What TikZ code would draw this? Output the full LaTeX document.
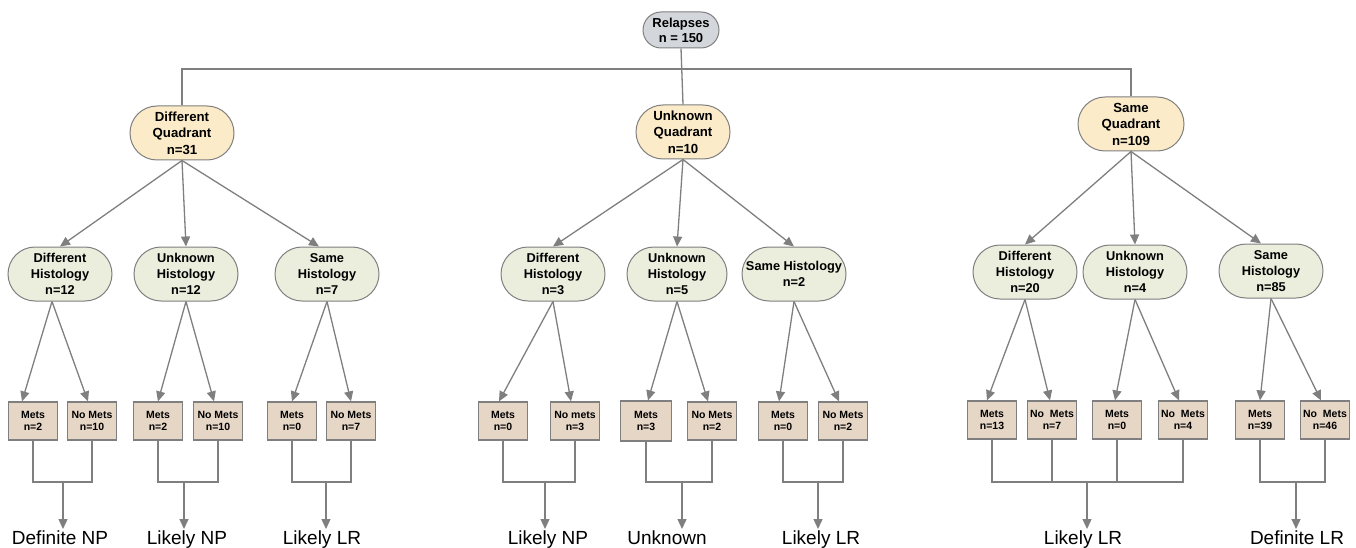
\documentclass[tikz,border=0pt]{standalone}
\usepackage{fontspec}
\setmainfont{Liberation Sans}
\usetikzlibrary{shapes.misc,arrows.meta}
\definecolor{lineg}{HTML}{7F7F7F}
\definecolor{relfill}{HTML}{D3D7DC}
\definecolor{quadfill}{HTML}{FBEBC9}
\definecolor{histfill}{HTML}{EBEEDD}
\definecolor{boxfill}{HTML}{E6D6C6}
\begin{document}
\begin{tikzpicture}[x=1pt,y=-1pt,
  pill/.style={rounded rectangle, draw=lineg, line width=1pt, align=center, inner sep=0pt},
  relnode/.style={pill, fill=relfill, minimum width=76pt, minimum height=36pt, font=\fontsize{13}{15}\selectfont\bfseries},
  quad/.style={pill, fill=quadfill, minimum height=54pt, font=\fontsize{13.2}{16.5}\selectfont\bfseries},
  hist/.style={pill, fill=histfill, minimum width=104pt, minimum height=54pt, font=\fontsize{12.8}{16}\selectfont\bfseries},
  metbox/.style={draw=lineg, line width=1.2pt, fill=boxfill, minimum width=49pt, minimum height=38pt, inner sep=0pt, align=center, font=\fontsize{10.5}{12}\selectfont\bfseries},
  conn/.style={draw=lineg, line width=1.3pt},
  arr/.style={conn, -{Triangle[length=10pt,width=9pt]}},
  outcome/.style={anchor=north, inner sep=2pt, font=\fontsize{19}{22}\selectfont}
]
\useasboundingbox (0,0) rectangle (1356,548);

% root
\node[relnode] (rel) at (681,30) {Relapses\\n = 150};

% quadrants
\node[quad, minimum width=104pt] (dq) at (182,133) {Different\\Quadrant\\n=31};
\node[quad, minimum width=94pt] (uq) at (683,132) {Unknown\\Quadrant\\n=10};
\node[quad, minimum width=106pt] (sq) at (1131,124) {Same\\Quadrant\\n=109};

\coordinate (top) at (681,69);
\draw[conn] (rel.south) -- (uq.north);
\draw[conn] (dq.north) -- (dq.north |- top) -- (sq.north |- top) -- (sq.north);

% histology
\node[hist] (h1) at (60,274) {Different\\Histology\\n=12};
\node[hist] (h2) at (186,274) {Unknown\\Histology\\n=12};
\node[hist] (h3) at (327,274) {Same\\Histology\\n=7};
\node[hist] (h4) at (553,274) {Different\\Histology\\n=3};
\node[hist, minimum width=100pt] (h5) at (677,274) {Unknown\\Histology\\n=5};
\node[hist] (h6) at (794,274) {Same Histology\\n=2};
\node[hist] (h7) at (1025,272) {Different\\Histology\\n=20};
\node[hist] (h8) at (1135,272) {Unknown\\Histology\\n=4};
\node[hist] (h9) at (1271,271) {Same\\Histology\\n=85};

\draw[arr] (dq.south) -- (h1.north);
\draw[arr] (dq.south) -- (h2.north);
\draw[arr] (dq.south) -- ([xshift=-8pt]h3.north);
\draw[arr] (uq.south) -- (h4.north);
\draw[arr] (uq.south) -- (h5.north);
\draw[arr] (uq.south) -- (h6.north);
\draw[arr] (sq.south) -- (h7.north);
\draw[arr] (sq.south) -- (h8.north);
\draw[arr] (sq.south) -- ([xshift=-10pt]h9.north);

% met boxes
\node[metbox] (m1) at (33,421) {Mets\\n=2};
\node[metbox] (n1) at (92,421) {No Mets\\n=10};
\node[metbox] (m2) at (158,421) {Mets\\n=2};
\node[metbox] (n2) at (218,421) {No Mets\\n=10};
\node[metbox] (m3) at (292,421) {Mets\\n=0};
\node[metbox] (n3) at (351,421) {No Mets\\n=7};
\node[metbox] (m4) at (503,421) {Mets\\n=0};
\node[metbox] (n4) at (575,421) {No mets\\n=3};
\node[metbox, minimum width=51pt, minimum height=40pt] (m5) at (646,421) {Mets\\n=3};
\node[metbox] (n5) at (712,421) {No Mets\\n=2};
\node[metbox] (m6) at (783,421) {Mets\\n=0};
\node[metbox] (n6) at (843,421) {No Mets\\n=2};
\node[metbox] (m7) at (992,420) {Mets\\n=13};
\node[metbox] (n7) at (1052,420) {No~~Mets\\n=7};
\node[metbox] (m8) at (1117,420) {Mets\\n=0};
\node[metbox] (n8) at (1183,420) {No~~Mets\\n=4};
\node[metbox] (m9) at (1260,420) {Mets\\n=39};
\node[metbox] (n9) at (1325,420) {No~~Mets\\n=46};

\draw[arr] ([xshift=-8pt]h1.south) -- ([xshift=-11pt]m1.north);
\draw[arr] ([xshift=-8pt]h1.south) -- ([xshift=-4pt]n1.north);
\draw[arr] (h2.south) -- (m2.north);
\draw[arr] (h2.south) -- ([xshift=-4pt]n2.north);
\draw[arr] (h3.south) -- (m3.north);
\draw[arr] (h3.south) -- (n3.north);
\draw[arr] (h4.south) -- ([xshift=-4pt]m4.north);
\draw[arr] (h4.south) -- ([xshift=-4pt]n4.north);
\draw[arr] (h5.south) -- ([xshift=2pt]m5.north);
\draw[arr] (h5.south) -- ([xshift=-4pt]n5.north);
\draw[arr] (h6.south) -- ([xshift=-4pt]m6.north);
\draw[arr] (h6.south) -- ([xshift=-4pt]n6.north);
\draw[arr] (h7.south) -- ([xshift=-5pt]m7.north);
\draw[arr] (h7.south) -- ([xshift=-2pt]n7.north);
\draw[arr] (h8.south) -- ([xshift=-2pt]m8.north);
\draw[arr] (h8.south) -- ([xshift=-4pt]n8.north);
\draw[arr] (h9.south) -- (m9.north);
\draw[arr] (h9.south) -- ([xshift=-4pt]n9.north);

% outcomes
\node[outcome] (o1) at (60,529) {Definite NP};
\node[outcome] (o2) at (187,529) {Likely NP};
\node[outcome] (o3) at (322,529) {Likely LR};
\node[outcome] (o4) at (548,529) {Likely NP};
\node[outcome] (o5) at (667,529) {Unknown};
\node[outcome] (o6) at (821,529) {Likely LR};
\node[outcome] (o7) at (1083,529) {Likely LR};
\node[outcome] (o8) at (1297,529) {Definite LR};

\coordinate (j1) at (63,482);
\coordinate (j2) at (184,482);
\coordinate (j3) at (326,482);
\coordinate (j4) at (545,482);
\coordinate (j5) at (682,482);
\coordinate (j6) at (818,482);
\coordinate (j7) at (1087,482);
\coordinate (j8) at (1296,482);

\draw[conn] (m1.south) |- (j1) -| (n1.south);
\draw[conn] (m2.south) |- (j2) -| (n2.south);
\draw[conn] (m3.south) |- (j3) -| (n3.south);
\draw[conn] (m4.south) |- (j4) -| (n4.south);
\draw[conn] (m5.south) |- (j5) -| (n5.south);
\draw[conn] (m6.south) |- (j6) -| (n6.south);
\draw[conn] (m7.south) |- (j7) -| (n8.south);
\draw[conn] (n7.south) -- (n7.south |- j7);
\draw[conn] (m8.south) -- (m8.south |- j7);
\draw[conn] (m9.south) |- (j8) -| (n9.south);

\draw[arr] (j1) -- (j1 |- o1.north);
\draw[arr] (j2) -- (j2 |- o2.north);
\draw[arr] (j3) -- (j3 |- o3.north);
\draw[arr] (j4) -- (j4 |- o4.north);
\draw[arr] (j5) -- (j5 |- o5.north);
\draw[arr] (j6) -- (j6 |- o6.north);
\draw[arr] (j7) -- (j7 |- o7.north);
\draw[arr] (j8) -- (j8 |- o8.north);
\end{tikzpicture}
\end{document}
